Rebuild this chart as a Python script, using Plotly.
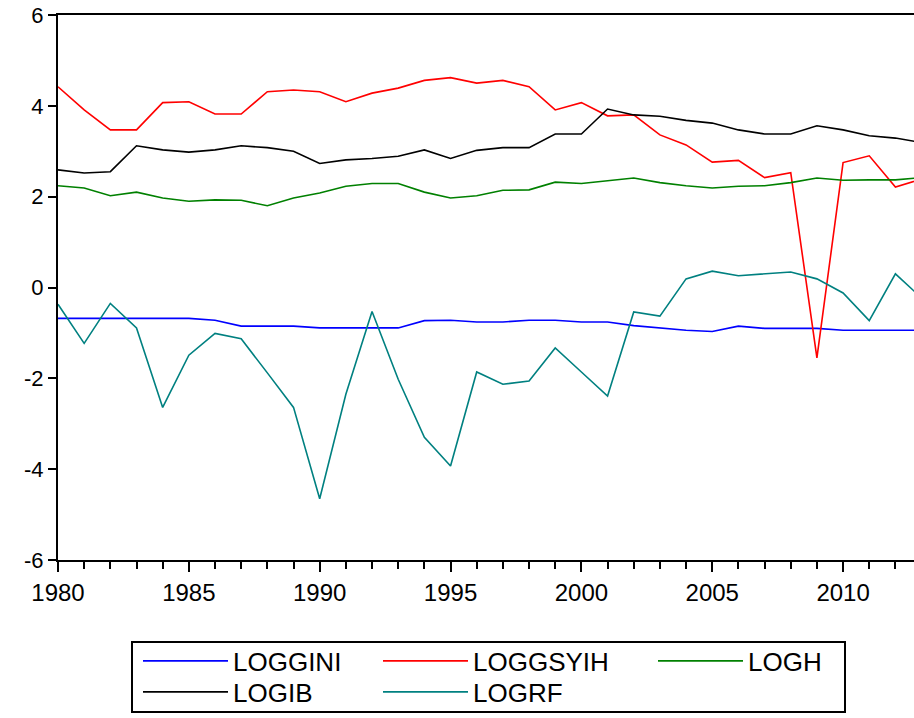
import plotly.graph_objects as go

years = list(range(1980, 2014))

loggini = [-0.68, -0.68, -0.68, -0.68, -0.68, -0.68, -0.72, -0.85, -0.85, -0.85,
           -0.89, -0.89, -0.89, -0.89, -0.73, -0.72, -0.76, -0.76, -0.72, -0.72,
           -0.76, -0.76, -0.84, -0.89, -0.94, -0.97, -0.85, -0.90, -0.90, -0.90,
           -0.94, -0.94, -0.94, -0.94]

loggsyih = [4.42, 3.91, 3.47, 3.47, 4.07, 4.09, 3.82, 3.82, 4.31, 4.35,
            4.31, 4.09, 4.28, 4.39, 4.56, 4.62, 4.50, 4.56, 4.42, 3.91,
            4.07, 3.78, 3.80, 3.36, 3.14, 2.76, 2.80, 2.42, 2.53, -1.55,
            2.75, 2.90, 2.21, 2.39]

logh = [2.24, 2.19, 2.02, 2.10, 1.97, 1.90, 1.93, 1.92, 1.80, 1.97,
        2.08, 2.23, 2.29, 2.29, 2.10, 1.97, 2.02, 2.14, 2.15, 2.32,
        2.29, 2.35, 2.41, 2.31, 2.24, 2.19, 2.23, 2.24, 2.31, 2.41,
        2.36, 2.37, 2.37, 2.42]

logib = [2.59, 2.52, 2.55, 3.12, 3.03, 2.98, 3.03, 3.12, 3.08, 3.00,
         2.73, 2.81, 2.84, 2.89, 3.03, 2.84, 3.02, 3.08, 3.08, 3.38,
         3.38, 3.93, 3.80, 3.77, 3.68, 3.62, 3.47, 3.38, 3.38, 3.56,
         3.47, 3.34, 3.29, 3.19]

logrf = [-0.37, -1.23, -0.35, -0.89, -2.64, -1.49, -1.01, -1.13, -1.88, -2.64,
         -4.65, -2.35, -0.53, -2.02, -3.30, -3.93, -1.86, -2.13, -2.06, -1.33,
         -1.86, -2.39, -0.54, -0.63, 0.19, 0.36, 0.26, 0.30, 0.34, 0.19,
         -0.12, -0.73, 0.30, -0.23]

y_tickvals = [-6, -4, -2, 0, 2, 4, 6]
y_ticktext = ["-6", "-4", "-2", "0", "2", "4", "6"]

series_names = ["LOGGINI", "LOGGSYIH", "LOGH", "LOGIB", "LOGRF"]
series_values = [loggini, loggsyih, logh, logib, logrf]
series_colors = ["#0000ff", "#ff0000", "#008000", "#000000", "#008080"]

FONT = "Liberation Sans, Arial, sans-serif"

# body margin is removed in the page, so figure pixels == screen pixels
W, H = 914, 718
L, T = 58, 15
B = H - 560
R = 0
pw, ph = W - L - R, H - T - B


def px(xp):
    return (xp - L) / pw


def py(yp):
    return (H - B - yp) / ph


# legend slot positions (left of legend box, row centre) in screen pixels
legend_slots = [(138, 661), (378, 661), (653, 661), (138, 692), (378, 692)]
legend_ids = ["legend", "legend2", "legend3", "legend4", "legend5"]

fig = go.Figure()
for name, vals, color, lid in zip(series_names, series_values, series_colors, legend_ids):
    fig.add_trace(go.Scatter(x=years, y=vals, mode="lines", name=name,
                             line=dict(color=color, width=1.6), legend=lid))

legcommon = dict(bgcolor="rgba(0,0,0,0)", borderwidth=0,
                 font=dict(family=FONT, size=26, color="#000"),
                 orientation="v", xanchor="left", yanchor="middle", itemwidth=85,
                 tracegroupgap=0, itemclick=False, itemdoubleclick=False)

legend_layout = {}
for lid, (lx, ly) in zip(legend_ids, legend_slots):
    legend_layout[lid] = dict(x=px(lx), y=py(ly), **legcommon)

fig.update_layout(
    width=W, height=H,
    margin=dict(l=L, r=R, t=T, b=B, pad=0, autoexpand=False),
    paper_bgcolor="white", plot_bgcolor="white",
    font=dict(family=FONT, size=24, color="#000"),
    xaxis=dict(range=[1980, 2012.71], showgrid=False, zeroline=False,
               automargin=False,
               showline=True, linecolor="#000", linewidth=2, mirror=True,
               ticks="outside", ticklen=10, tickwidth=2, tickcolor="#000",
               tick0=1980, dtick=5,
               minor=dict(ticks="outside", ticklen=7, tickwidth=2, tickcolor="#000",
                          dtick=1, tick0=1980),
               tickfont=dict(family=FONT, size=24)),
    yaxis=dict(range=[-6, 6], showgrid=False, zeroline=False,
               automargin=False,
               showline=True, linecolor="#000", linewidth=2,
               ticks="outside", ticklen=8, tickwidth=2, tickcolor="#000",
               tickvals=y_tickvals, ticktext=y_ticktext,
               ticklabeloverflow="allow",
               tickfont=dict(family=FONT, size=22)),
    shapes=[dict(type="rect", xref="paper", yref="paper",
                 x0=px(132), x1=px(845), y0=py(642), y1=py(712),
                 line=dict(color="#000", width=2), fillcolor="rgba(0,0,0,0)")],
    showlegend=True,
    **legend_layout,
)

fig.write_html("out.html",
               config={"displayModeBar": False},
               post_script="document.body.style.margin='0';document.body.style.overflow='hidden';")
